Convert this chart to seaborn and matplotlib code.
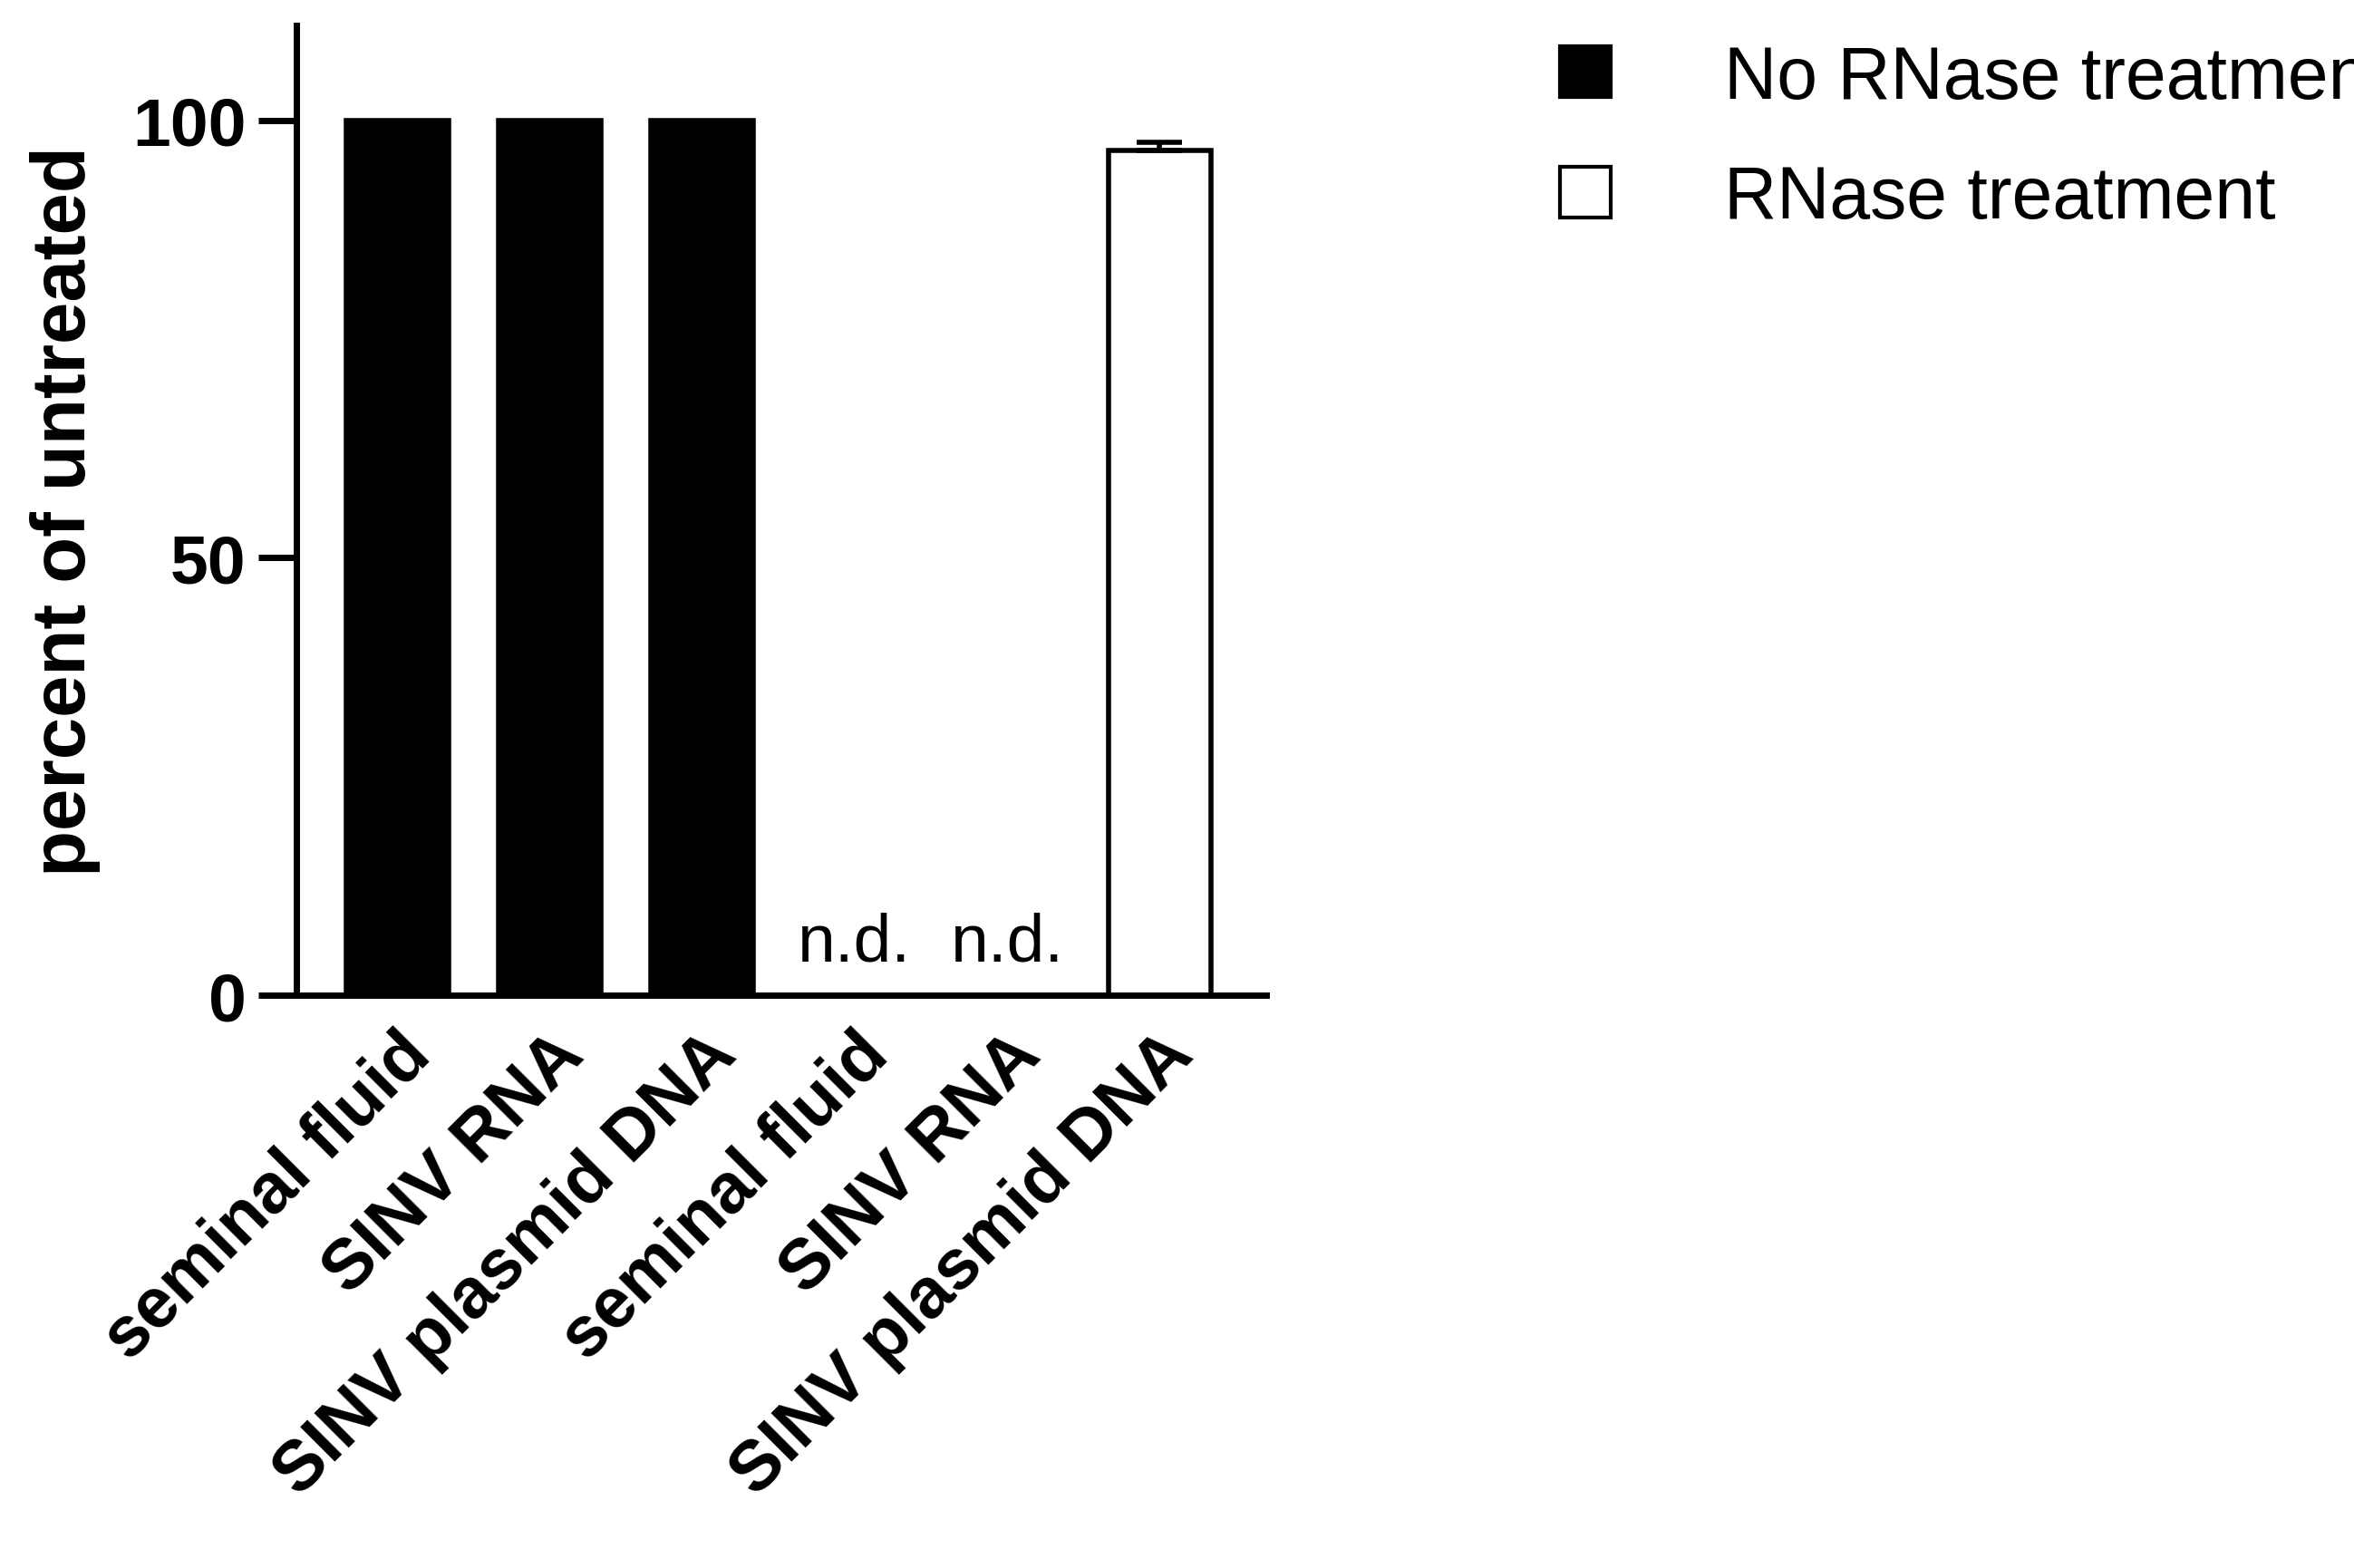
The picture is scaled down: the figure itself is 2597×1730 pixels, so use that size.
import matplotlib
matplotlib.use("Agg")
import matplotlib.pyplot as plt
import seaborn as sns
import pandas as pd
from matplotlib.lines import Line2D

categories = ["seminal fluid", "SINV RNA", "SINV plasmid DNA", "seminal fluid", "SINV RNA", "SINV plasmid DNA"]
values = [100, 100, 100, 0, 0, 96.5]
errors = [0, 0, 0, 0, 0, 1.0]
groups = ["No RNase treatment"] * 3 + ["RNase treatment"] * 3
nd_labels = ["", "", "", "n.d.", "n.d.", ""]

sns.set_theme(style="white")
plt.rcParams['font.family'] = ['Liberation Sans', 'DejaVu Sans']
plt.rcParams['text.color'] = 'black'
plt.rcParams['axes.labelcolor'] = 'black'
plt.rcParams['xtick.color'] = 'black'
plt.rcParams['ytick.color'] = 'black'

df = pd.DataFrame({"pos": [str(i) for i in range(6)], "value": values, "group": groups})
fig = plt.figure(figsize=(25.97, 17.31), dpi=100)
ax = fig.add_axes([0.126, 0.365, 0.412, 0.618])
sns.barplot(data=df, x="pos", y="value", hue="group", palette={"No RNase treatment": "black", "RNase treatment": "white"},
            dodge=False, width=0.67, edgecolor="black", linewidth=4, legend=False, ax=ax)
for i, (v, e) in enumerate(zip(values, errors)):
    if e > 0:
        ax.errorbar(i, v, yerr=[[0], [e]], color="black", capsize=18, elinewidth=4, capthick=4)
    if nd_labels[i]:
        ax.text(i, 2.5, nd_labels[i], ha="center", va="bottom", fontsize=54)
ax.set_xlim(-0.66, 5.7)
ax.set_ylim(0, 110.8)
ax.set_yticks([0, 50, 100])
ax.set_yticklabels(["0", "50", "100"], fontsize=54, fontweight="bold")
ax.set_xticks(range(6))
ax.set_xticklabels(categories, rotation=45, ha="right", rotation_mode="anchor", fontsize=56, fontweight="bold")
ax.set_xlabel("")
ax.set_ylabel("percent of untreated", fontsize=60, fontweight="bold", labelpad=25)
for s in ["top", "right"]:
    ax.spines[s].set_visible(False)
for s in ["left", "bottom"]:
    ax.spines[s].set_linewidth(5)
    ax.spines[s].set_color("black")
ax.tick_params(axis="y", length=30, width=5, left=True, pad=10)
ax.tick_params(axis="x", length=0, pad=20)

handles = [Line2D([], [], marker="s", linestyle="none", markersize=40, markerfacecolor="black", markeredgecolor="black", markeredgewidth=3),
           Line2D([], [], marker="s", linestyle="none", markersize=40, markerfacecolor="white", markeredgecolor="black", markeredgewidth=3)]
fig.legend(handles, ["No RNase treatment", "RNase treatment"], loc="upper left", bbox_to_anchor=(0.63, 0.99),
           frameon=False, fontsize=58, handletextpad=0.9, labelspacing=0.7, borderaxespad=0)
fig.savefig("out.png", dpi=100)
